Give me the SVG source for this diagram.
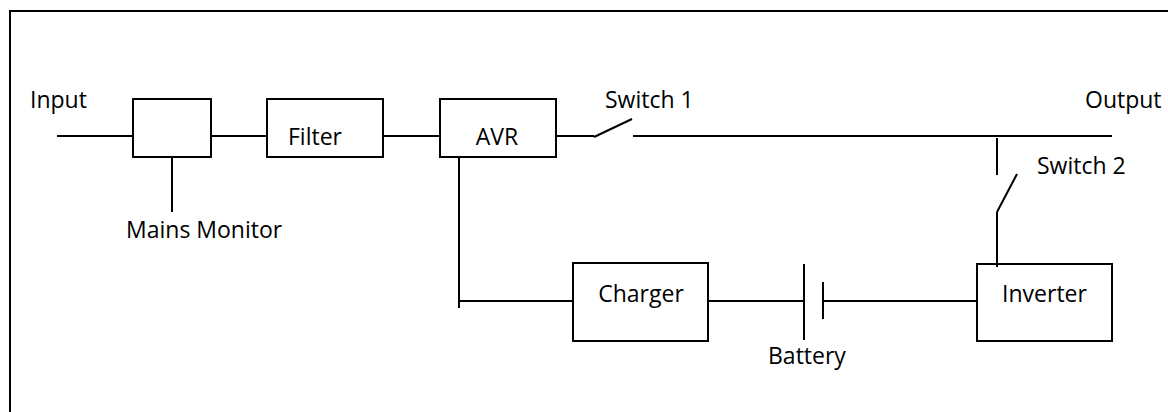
<svg xmlns="http://www.w3.org/2000/svg" width="1168" height="412" viewBox="0 0 1168 412">
<style>
.box{fill:#fff;stroke:#000;stroke-width:2}
.ln{fill:none;stroke:#000;stroke-width:2}
text{font-family:"Open Sans","Noto Sans","Liberation Sans",sans-serif;font-size:23px;fill:#000}
</style>
<rect x="0" y="0" width="1168" height="412" fill="#fff"/>
<path class="ln" d="M10,412 V11 H1168" stroke-width="2.5"/>
<g id="connectors">
<line class="ln" x1="57" y1="136" x2="133" y2="136"/>
<line class="ln" x1="211" y1="136" x2="267" y2="136"/>
<line class="ln" x1="383" y1="136" x2="440" y2="136"/>
<line class="ln" x1="172" y1="157" x2="172" y2="212"/>
<line class="ln" x1="556" y1="136" x2="594" y2="136"/>
<line class="ln" x1="594" y1="137" x2="632" y2="119"/>
<line class="ln" x1="633" y1="136" x2="1112" y2="136"/>
<line class="ln" x1="997" y1="138" x2="997" y2="175"/>
<line class="ln" x1="997" y1="212" x2="1017" y2="174"/>
<line class="ln" x1="997" y1="212" x2="997" y2="267"/>
<line class="ln" x1="459" y1="157" x2="459" y2="308"/>
<line class="ln" x1="459" y1="301" x2="573" y2="301"/>
<line class="ln" x1="708" y1="301" x2="804" y2="301"/>
<line class="ln" x1="823" y1="301" x2="977" y2="301"/>
</g>
<g id="input"><text x="30" y="108">Input</text></g>
<g id="output"><text x="1085" y="108">Output</text></g>
<g id="mains-monitor">
<rect class="box" x="133" y="99" width="78" height="58"/>
<text x="126" y="238">Mains Monitor</text>
</g>
<g id="filter">
<rect class="box" x="267" y="99" width="116" height="58"/>
<text x="288" y="145">Filter</text>
</g>
<g id="avr">
<rect class="box" x="440" y="99" width="116" height="58"/>
<text x="497" y="145" text-anchor="middle">AVR</text>
</g>
<g id="switch1"><text x="605" y="108">Switch 1</text></g>
<g id="switch2"><text x="1037" y="174">Switch 2</text></g>
<g id="charger">
<rect class="box" x="573" y="263" width="135" height="78"/>
<text x="641" y="302" text-anchor="middle">Charger</text>
</g>
<g id="battery">
<line class="ln" x1="804" y1="264" x2="804" y2="340"/>
<line class="ln" x1="823" y1="282" x2="823" y2="319"/>
<text x="768" y="364">Battery</text>
</g>
<g id="inverter">
<rect class="box" x="977" y="264" width="135" height="77"/>
<line class="ln" x1="997" y1="264" x2="997" y2="267"/>
<text x="1044.5" y="302" text-anchor="middle">Inverter</text>
</g>
</svg>
